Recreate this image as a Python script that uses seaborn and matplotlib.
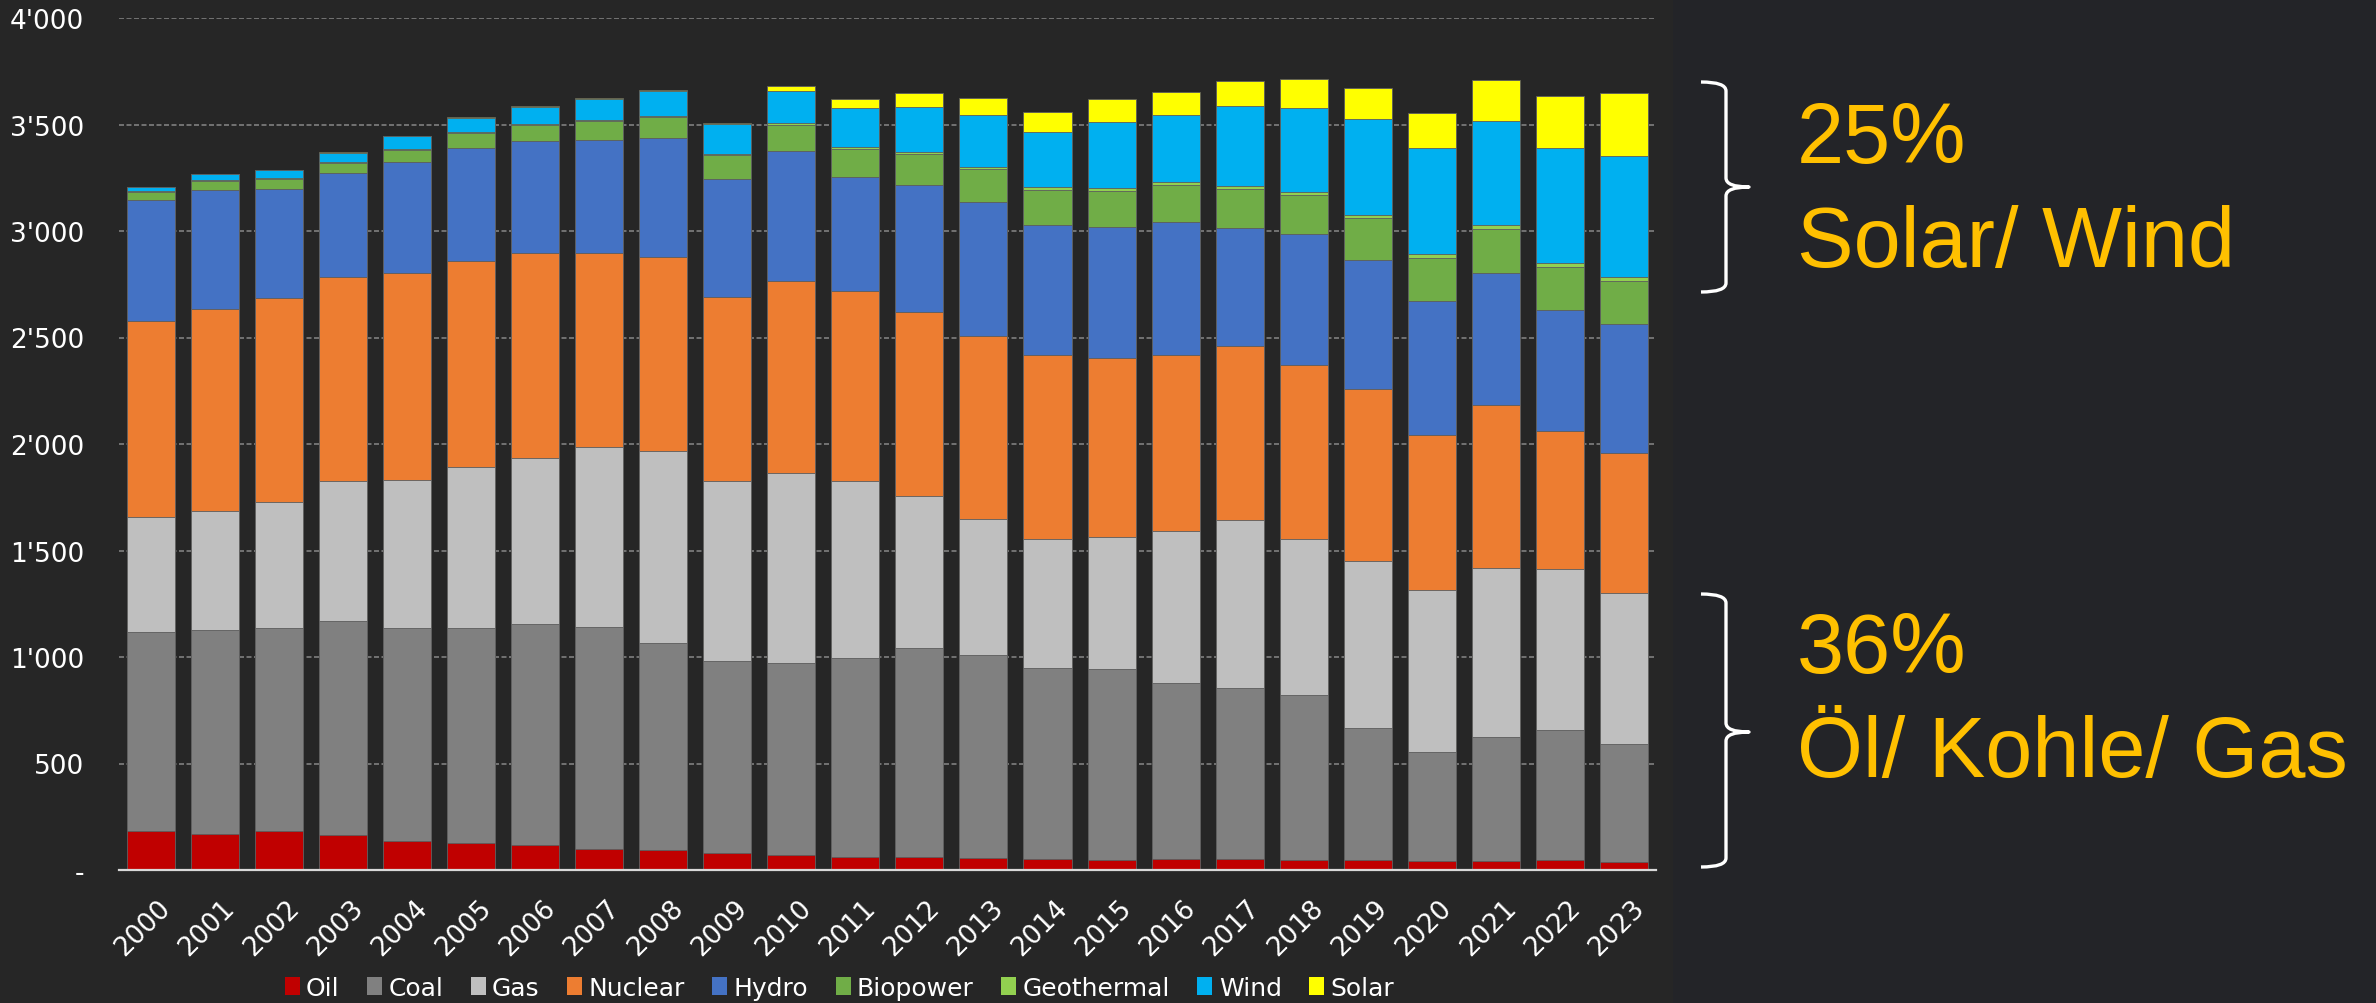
import numpy as np
import pandas as pd
import matplotlib
matplotlib.use("Agg")
import matplotlib.pyplot as plt
import matplotlib.transforms as mtransforms
from matplotlib.patches import Patch, PathPatch, Rectangle
from matplotlib.path import Path
from matplotlib.ticker import FuncFormatter, MultipleLocator
import seaborn as sns

# ---------------- data (TWh) ----------------
years = [str(y) for y in range(2000, 2024)]
oil = [184, 171, 181, 162, 137, 129, 118, 97, 93, 80, 71, 60, 60, 55, 50, 46, 52, 52, 46, 46, 41, 41, 46, 36]
coal = [935, 958, 953, 1009, 997, 1008, 1036, 1044, 971, 901, 902, 935, 982, 953, 897, 898, 824, 802, 774, 623, 515, 584, 613, 556]
gas = [540, 557, 595, 653, 695, 755, 782, 847, 902, 844, 890, 830, 713, 639, 606, 621, 716, 790, 733, 782, 760, 794, 756, 710]
nuclear = [919, 948, 957, 962, 974, 966, 960, 909, 911, 864, 900, 891, 867, 862, 863, 841, 824, 814, 819, 805, 725, 762, 646, 657]
hydro = [566, 560, 512, 486, 520, 533, 527, 530, 559, 556, 614, 539, 595, 625, 614, 612, 625, 556, 612, 607, 632, 621, 569, 603]
biopower = [37, 42, 47, 48, 55, 68, 75, 90, 100, 110, 120, 129, 145, 155, 164, 172, 176, 181, 183, 198, 199, 207, 199, 201]
geothermal = [5, 5, 5, 5, 5, 5, 5, 5, 5, 6, 9, 9, 8, 12, 12, 12, 14, 17, 18, 16, 20, 20, 19, 22]
wind = [20, 25, 35, 42, 61, 68, 80, 100, 117, 140, 151, 186, 213, 244, 258, 309, 315, 373, 394, 450, 500, 487, 544, 567]
solar = [1, 1, 1, 2, 2, 3, 3, 4, 6, 8, 22, 42, 67, 80, 94, 108, 108, 117, 133, 145, 164, 191, 241, 297]

series_names = ["Oil", "Coal", "Gas", "Nuclear", "Hydro", "Biopower", "Geothermal", "Wind", "Solar"]
series_colors = ["#C00000", "#808080", "#BFBFBF", "#ED7D31", "#4472C4",
                 "#70AD47", "#92D050", "#00B0F0", "#FFFF00"]

annot_top_pct = "25%"
annot_top_txt = "Solar/ Wind"
annot_bot_pct = "36%"
annot_bot_txt = "Öl/ Kohle/ Gas"

df = pd.DataFrame({"Year": years, "Oil": oil, "Coal": coal, "Gas": gas, "Nuclear": nuclear,
                   "Hydro": hydro, "Biopower": biopower, "Geothermal": geothermal,
                   "Wind": wind, "Solar": solar})
cum = df[series_names].cumsum(axis=1)
cum.insert(0, "Year", df["Year"])

# ---------------- style ----------------
BG = "#262626"
sns.set_theme(style="dark", rc={"axes.facecolor": BG, "figure.facecolor": BG,
                                "savefig.facecolor": BG})
plt.rcParams["font.family"] = ["DejaVu Sans"]

W, H = 2376, 1004
fig = plt.figure(figsize=(W / 100, H / 100), dpi=100)
fig.patches.append(Rectangle((1673 / W, 0), 1 - 1673 / W, 1, transform=fig.transFigure,
                             facecolor="#232428", edgecolor="none", zorder=-10))

ax_l, ax_r, ax_t, ax_b = 118.75, 1656, 19, 871
ax = fig.add_axes([ax_l / W, 1 - ax_b / H, (ax_r - ax_l) / W, (ax_b - ax_t) / H])
ax.set_facecolor(BG)

# stacked bars: draw cumulative totals from top layer down
for name, color in reversed(list(zip(series_names, series_colors))):
    sns.barplot(data=cum, x="Year", y=name, order=years, color=color, saturation=1,
                width=0.75, edgecolor="#5c5c5c", linewidth=0.6, ax=ax)

ax.set_xlim(-0.5, len(years) - 0.5)
ax.set_ylim(0, 4000)
ax.set_xlabel("")
ax.set_ylabel("")

ax.yaxis.set_major_locator(MultipleLocator(500))
ax.yaxis.set_major_formatter(FuncFormatter(
    lambda v, p: "-" if v == 0 else f"{int(v):,}".replace(",", "'")))
ax.tick_params(axis="y", length=0, pad=25, labelsize=19, labelcolor="white")
ax.tick_params(axis="x", length=0, pad=0, labelsize=19, labelcolor="white")

offset = mtransforms.ScaledTranslation(7 / 100, -24 / 100, fig.dpi_scale_trans)
for lbl in ax.get_xticklabels():
    lbl.set_rotation(45)
    lbl.set_rotation_mode("anchor")
    lbl.set_ha("right")
    lbl.set_va("top")
    lbl.set_transform(lbl.get_transform() + offset)

ax.set_axisbelow(True)
ax.yaxis.grid(True, color="#808080", linestyle=(0, (3, 1.5)), linewidth=1.2)
ax.xaxis.grid(False)
for s in ["top", "right", "left"]:
    ax.spines[s].set_visible(False)
ax.spines["bottom"].set_color("#D9D9D9")
ax.spines["bottom"].set_linewidth(1.6)
ax.spines["bottom"].set_zorder(5)

# legend
handles = [Patch(facecolor=c, edgecolor="none", label=n) for n, c in zip(series_names, series_colors)]
fig.legend(handles=handles, loc="center", bbox_to_anchor=(839.5 / W, 1 - 989 / H),
           ncol=len(series_names), frameon=False, fontsize=18, labelcolor="white",
           handlelength=0.6, handleheight=0.75, handletextpad=0.25, columnspacing=1.1,
           borderpad=0, borderaxespad=0)


# curly braces (pixel coords, y down)
def brace(x_end, x_line, x_tip, y_top, y_tip, y_bot, r=9):
    pts = [(x_end, y_top), (x_line, y_top), (x_line, y_top + r),
           (x_line, y_tip - r),
           (x_line, y_tip), (x_tip, y_tip),
           (x_line, y_tip), (x_line, y_tip + r),
           (x_line, y_bot - r),
           (x_line, y_bot), (x_end, y_bot)]
    codes = [Path.MOVETO, Path.CURVE3, Path.CURVE3, Path.LINETO,
             Path.CURVE3, Path.CURVE3, Path.CURVE3, Path.CURVE3,
             Path.LINETO, Path.CURVE3, Path.CURVE3]
    verts = [(x / W, 1 - y / H) for x, y in pts]
    fig.patches.append(PathPatch(Path(verts, codes), transform=fig.transFigure,
                                 facecolor="none", edgecolor="white", linewidth=2.4,
                                 capstyle="butt", joinstyle="round"))


brace(1701, 1726, 1749, 83, 188, 293)
brace(1701, 1726, 1749, 595, 733, 868)

gold = "#FFC000"
tfont = ["Liberation Sans", "DejaVu Sans"]
fig.text(1797 / W, 1 - 163 / H, annot_top_pct, fontsize=61, color=gold, family=tfont, va="baseline", ha="left")
fig.text(1797 / W, 1 - 267 / H, annot_top_txt, fontsize=61, color=gold, family=tfont, va="baseline", ha="left")
fig.text(1797 / W, 1 - 673 / H, annot_bot_pct, fontsize=61, color=gold, family=tfont, va="baseline", ha="left")
fig.text(1797 / W, 1 - 777 / H, annot_bot_txt, fontsize=61, color=gold, family=tfont, va="baseline", ha="left")

fig.savefig("out.png", dpi=100, facecolor=BG)
